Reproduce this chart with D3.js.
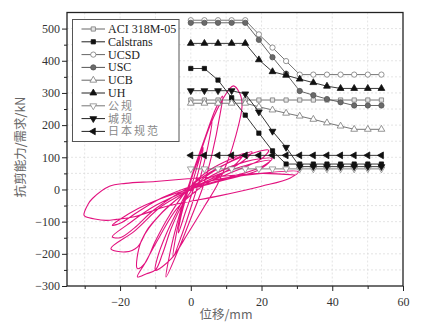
<!DOCTYPE html>
<html>
<head>
<meta charset="utf-8">
<script src="https://cdn.jsdelivr.net/npm/d3@7"></script>
<style>
  html, body { margin: 0; padding: 0; background: #fff; }
  svg { display: block; }
</style>
</head>
<body>
<svg id="chart" width="434" height="330"></svg>
<script>
  // displacement steps (mm) shared by all capacity curves
  const steps = [0, 3.85, 7.7, 11.55, 15.4, 19.25, 23.1, 26.95, 30.8, 34.65, 38.5, 42.35, 46.2, 50.05, 53.9];

  const aci = [278, 278, 278, 278, 278, 278, 278, 278, 278, 278, 278, 278, 278, 278, 278];
  const calstrans = [376, 376, 340, 285, 231, 175, 120, 79, 79, 79, 79, 79, 79, 79, 79];
  const ucsd = [526, 526, 526, 526, 526, 482, 441, 399, 357, 357, 357, 357, 357, 357, 357];
  const usc = [518, 518, 518, 518, 518, 465, 411, 360, 306, 293, 281, 271, 261, 261, 261];
  const ucb = [268, 268, 268, 268, 268, 257, 247, 237, 228, 218, 207, 197, 187, 187, 187];
  const uh = [454, 454, 454, 454, 454, 403, 366, 355, 343, 332, 321, 314, 314, 314, 314];
  const gongGui = [64, 64, 64, 64, 64, 64, 64, 64, 64, 64, 64, 64, 64, 64, 64];
  const chengGui = [307, 307, 307, 307, 297, 241, 181, 131, 71, 71, 71, 71, 71, 71, 71];
  const japan = [106, 106, 106, 106, 106, 106, 106, 106, 106, 106, 106, 106, 106, 106, 106];

  const names = ['ACI 318M-05', 'Calstrans', 'UCSD', 'USC', 'UCB', 'UH', '公规', '城规', '日本规范'];

  // test hysteresis as (mm, kN)
  const loopPts = [
    [0, 0], [1.5, 60], [3.5, 130], [3, 95], [1, 10], [-1.5, -70], [-3.5, -135], [-2.8, -85], [-0.8, -5],
    [1.5, 80], [4, 160], [6, 215], [5.3, 160], [3, 50], [0.5, -40], [-2.5, -140], [-5, -210], [-4.3, -150], [-2, -40],
    [0.5, 50], [4, 160], [7, 250], [9, 290], [8.3, 235], [6, 110], [3.5, 10], [0, -90], [-4, -200], [-7, -272], [-6.3, -220], [-4, -110], [-1, 0],
    [2, 90], [5.5, 200], [9, 280], [12, 322], [13.8, 300], [14.5, 260], [12.8, 170], [10.5, 90], [7.5, 15], [4, -50], [-1, -140], [-5.5, -215], [-10, -251], [-9.5, -215], [-7, -140], [-3.5, -60],
    [0, 10], [6, 65], [12, 98], [15, 112], [13, 82], [8, 42], [2, 0], [-4, -60], [-9, -150], [-13, -230], [-15.1, -272], [-12.5, -262], [-10, -250], [-8, -200], [-5.5, -120], [-2, -40],
    [2, 20], [10, 80], [17.3, 117], [15, 90], [8, 45], [0, 0], [-8, -70], [-14, -160], [-15.1, -246], [-13, -230], [-10, -160], [-6, -80],
    [0, 10], [12, 90], [22, 122], [20, 95], [12, 55], [2, 10], [-8, -50], [-16, -130], [-22.6, -184], [-18.4, -194], [-15.1, -179], [-12, -120], [-6, -50],
    [3, 25], [15, 85], [23, 96], [20, 70], [10, 35], [0, 0], [-10, -50], [-18, -110], [-22.2, -147], [-20, -150], [-16, -120], [-10, -60],
    [2, 20], [14, 70], [22.5, 90], [19, 60], [8, 25], [-5, -15], [-15, -60], [-22.2, -111], [-20, -105], [-15, -70], [-8, -25],
    [5, 25], [20, 50], [30.4, 55], [28, 35], [20, 10], [8, -20], [-6, -50], [-16, -85], [-21, -93], [-24, -96], [-29.7, -85], [-30.2, -80],
    [-29, -45], [-27.8, -28], [-23, 10], [-18.4, 19], [-10, 25], [0, 34], [10, 42], [20, 50], [29.5, 45]
  ];

  const xTicks = [-20, 0, 20, 40, 60];
  const xMinor = [-30, -10, 10, 30, 50];
  const yTicks = [-300, -200, -100, 0, 100, 200, 300, 400, 500];
  const yMinor = [-250, -150, -50, 50, 150, 250, 350, 450];

  const serif = '"Liberation Serif", "Times New Roman", serif';
  const cjk = '"Noto Sans CJK SC", sans-serif';

  const svg = d3.select('#chart');
  const plotL = 67, plotR = 403, plotT = 12.5, plotB = 286;

  const x = d3.scaleLinear().domain([-35, 60]).range([plotL, plotR]);
  const y = d3.scaleLinear().domain([-300, 550]).range([plotB, plotT]);

  // grid
  const grid = svg.append('g').attr('stroke', '#d9d9d9').attr('stroke-width', 0.7).attr('stroke-dasharray', '2,2');
  d3.range(-30, 60, 10).forEach(v => {
    grid.append('line').attr('x1', x(v)).attr('x2', x(v)).attr('y1', plotT).attr('y2', plotB);
  });
  d3.range(-250, 550, 50).forEach(v => {
    grid.append('line').attr('x1', plotL).attr('x2', plotR).attr('y1', y(v)).attr('y2', y(v));
  });

  // hysteresis curve
  const loopLine = d3.line()
    .x(d => x(d[0]))
    .y(d => y(d[1]))
    .curve(d3.curveCatmullRom.alpha(0.5));
  svg.append('path')
    .datum(loopPts)
    .attr('d', loopLine)
    .attr('fill', 'none')
    .attr('stroke', '#e2127f')
    .attr('stroke-width', 1.1);

  // series styles: symbol, fill, stroke, rotation
  const styles = [
    { sym: d3.symbolSquare, fill: '#e4e4e4', stroke: '#7a7a7a', rot: 0, size: 18, line: '#666' },
    { sym: d3.symbolSquare, fill: '#111', stroke: '#111', rot: 0, size: 18, line: '#222' },
    { sym: d3.symbolCircle, fill: '#fff', stroke: '#7a7a7a', rot: 0, size: 22, line: '#666' },
    { sym: d3.symbolCircle, fill: '#6a6a6a', stroke: '#555', rot: 0, size: 22, line: '#555' },
    { sym: d3.symbolTriangle, fill: '#fff', stroke: '#7a7a7a', rot: 0, size: 20, line: '#666' },
    { sym: d3.symbolTriangle, fill: '#111', stroke: '#111', rot: 0, size: 20, line: '#222' },
    { sym: d3.symbolTriangle, fill: '#fff', stroke: '#8a8a8a', rot: 180, size: 20, line: '#777' },
    { sym: d3.symbolTriangle, fill: '#111', stroke: '#111', rot: 180, size: 20, line: '#222' },
    { sym: d3.symbolTriangle, fill: '#111', stroke: '#111', rot: -90, size: 20, line: '#222' }
  ];
  const seriesVals = [aci, calstrans, ucsd, usc, ucb, uh, gongGui, chengGui, japan];

  const drawMarker = (g, st, cx, cy) => {
    g.append('path')
      .attr('d', d3.symbol().type(st.sym).size(st.size)())
      .attr('transform', `translate(${cx},${cy}) rotate(${st.rot})`)
      .attr('fill', st.fill)
      .attr('stroke', st.stroke)
      .attr('stroke-width', 0.8);
  };

  const capLine = d3.line().x(d => x(d[0])).y(d => y(d[1]));
  seriesVals.forEach((vals, i) => {
    const st = styles[i];
    const pts = steps.map((s, k) => [s, vals[k]]);
    const g = svg.append('g');
    g.append('path')
      .datum(pts)
      .attr('d', capLine)
      .attr('fill', 'none')
      .attr('stroke', st.line)
      .attr('stroke-width', 0.9);
    pts.forEach(p => drawMarker(g, st, x(p[0]), y(p[1])));
  });

  // axes
  const fmt = d => d === 0 ? '0' : d3.format('d')(d).replace('-', '\u2212');
  const xAxis = svg.append('g').attr('transform', `translate(0,${plotB})`)
    .call(d3.axisBottom(x).tickValues(xTicks).tickSize(5).tickSizeOuter(0).tickFormat(fmt));
  svg.append('g').attr('transform', `translate(0,${plotB})`)
    .call(d3.axisBottom(x).tickValues(xMinor).tickSize(3).tickSizeOuter(0).tickFormat(''));
  const yAxis = svg.append('g').attr('transform', `translate(${plotL},0)`)
    .call(d3.axisLeft(y).tickValues(yTicks).tickSize(5).tickSizeOuter(0).tickFormat(fmt));
  svg.append('g').attr('transform', `translate(${plotL},0)`)
    .call(d3.axisLeft(y).tickValues(yMinor).tickSize(3).tickSizeOuter(0).tickFormat(''));

  svg.selectAll('.domain').remove();
  svg.selectAll('.tick line').attr('stroke', '#222').attr('stroke-width', 1);
  [xAxis, yAxis].forEach(a => a.selectAll('text')
    .attr('font-family', serif).attr('font-size', 12).attr('fill', '#333'));
  xAxis.selectAll('text').attr('dy', '1em');
  yAxis.selectAll('text').attr('x', -7);

  // frame
  svg.append('rect')
    .attr('x', plotL).attr('y', plotT)
    .attr('width', plotR - plotL).attr('height', plotB - plotT)
    .attr('fill', 'none').attr('stroke', '#222').attr('stroke-width', 1.3);

  // legend
  const lg = svg.append('g');
  lg.append('rect')
    .attr('x', 72.5).attr('y', 19.5).attr('width', 106.5).attr('height', 122)
    .attr('fill', '#fff').attr('stroke', '#555').attr('stroke-width', 1);
  names.forEach((n, i) => {
    const st = styles[i];
    const ly = 29 + i * 12.8;
    lg.append('line').attr('x1', 81.5).attr('x2', 105).attr('y1', ly).attr('y2', ly)
      .attr('stroke', st.line).attr('stroke-width', 1);
    drawMarker(lg, st, 93.3, ly);
    const isCjk = i >= 6;
    lg.append('text')
      .attr('x', 108).attr('y', ly + 4)
      .attr('font-family', isCjk ? cjk : serif)
      .attr('font-size', isCjk ? 11 : 12)
      .attr('letter-spacing', isCjk ? 2 : 0)
      .attr('fill', isCjk ? '#888' : '#222')
      .text(n);
  });

  // axis titles
  svg.append('text')
    .attr('transform', 'translate(25,147) rotate(-90)')
    .attr('text-anchor', 'middle')
    .attr('font-family', cjk).attr('font-size', 12.5).attr('fill', '#666')
    .text('抗剪能力/需求/kN');
  svg.append('text')
    .attr('x', 226).attr('y', 319)
    .attr('text-anchor', 'middle')
    .attr('font-family', cjk).attr('font-size', 12.5).attr('fill', '#666')
    .text('位移/mm');
</script>
</body>
</html>
